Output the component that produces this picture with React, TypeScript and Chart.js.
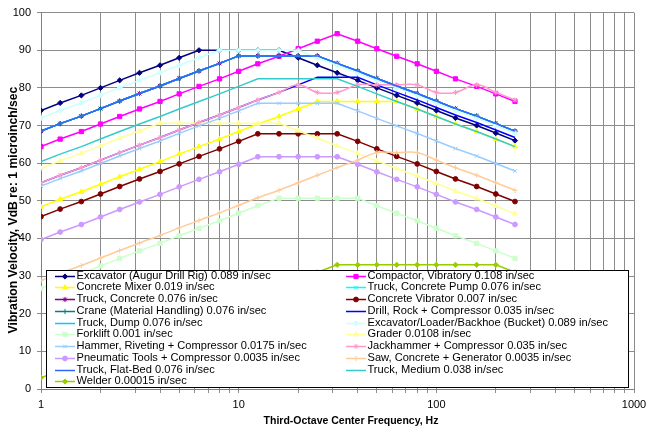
import React, { useEffect, useRef } from 'react';
import { Chart, registerables } from 'chart.js';

Chart.register(...registerables);

// Third-octave center frequencies, Hz
const freqs = [1, 1.25, 1.6, 2, 2.5, 3.15, 4, 5, 6.3, 8, 10, 12.5, 16, 20, 25, 31.5, 40, 50, 63, 80, 100, 125, 160, 200, 250];

// Vibration velocity, VdB
const excavator = [74, 76, 78, 80, 82, 84, 86, 88, 90, 90, 90, 90, 90, 88, 86, 84, 82, 80, 78, 76, 74, 72, 70, 68, 66];
const compactor = [64.4, 66.4, 68.4, 70.4, 72.4, 74.4, 76.4, 78.4, 80.4, 82.4, 84.4, 86.4, 88.4, 90.4, 92.4, 94.4, 92.4, 90.4, 88.4, 86.4, 84.4, 82.4, 80.4, 78.4, 76.4];
const concreteMixer = [48.4, 50.4, 52.4, 54.4, 56.4, 58.4, 60.4, 62.4, 64.4, 66.4, 68.4, 70.4, 72.4, 74.4, 76.4, 76.4, 76.4, 76.4, 76.4, 74.4, 72.4, 70.4, 68.4, 66.4, 64.4];
const truck076 = [68.5, 70.5, 72.5, 74.5, 76.5, 78.5, 80.5, 82.5, 84.5, 86.5, 88.5, 88.5, 88.5, 88.5, 88.5, 86.5, 84.5, 82.5, 80.5, 78.5, 76.5, 74.5, 72.5, 70.5, 68.5];
const concreteVibrator = [45.8, 47.8, 49.8, 51.8, 53.8, 55.8, 57.8, 59.8, 61.8, 63.8, 65.8, 67.8, 67.8, 67.8, 67.8, 67.8, 65.8, 63.8, 61.8, 59.8, 57.8, 55.8, 53.8, 51.8, 49.8];
const drillRock = [54.8, 56.8, 58.8, 60.8, 62.8, 64.8, 66.8, 68.8, 70.8, 72.8, 74.8, 76.8, 78.8, 80.8, 82.8, 82.8, 82.8, 80.8, 78.8, 76.8, 74.8, 72.8, 70.8, 68.8, 66.8];
const excLoader = [72, 74, 76, 78, 80, 82, 84, 86, 88, 90, 90, 90, 90, 90, 88, 86, 84, 82, 80, 78, 76, 74, 72, 70, 68];
const forklift = [26.7, 28.7, 30.7, 32.7, 34.7, 36.7, 38.7, 40.7, 42.7, 44.7, 46.7, 48.7, 50.7, 50.7, 50.7, 50.7, 50.7, 48.7, 46.7, 44.7, 42.7, 40.7, 38.7, 36.7, 34.7];
const grader = [58.6, 60.6, 62.6, 64.6, 66.6, 68.6, 70.6, 70.6, 70.6, 70.6, 70.6, 70.6, 70.6, 68.6, 66.6, 64.6, 62.6, 60.6, 58.6, 56.6, 54.6, 52.6, 50.6, 48.6, 46.6];
const hammer = [53.9, 55.9, 57.9, 59.9, 61.9, 63.9, 65.9, 67.9, 69.9, 71.9, 73.9, 75.9, 75.9, 75.9, 75.9, 75.9, 73.9, 71.9, 69.9, 67.9, 65.9, 63.9, 61.9, 59.9, 57.9];
const jackhammer = [54.8, 56.8, 58.8, 60.8, 62.8, 64.8, 66.8, 68.8, 70.8, 72.8, 74.8, 76.8, 78.8, 80.8, 78.8, 78.8, 80.8, 80.8, 80.8, 80.8, 78.8, 78.8, 80.8, 78.8, 76.8];
const pneumatic = [39.7, 41.7, 43.7, 45.7, 47.7, 49.7, 51.7, 53.7, 55.7, 57.7, 59.7, 61.7, 61.7, 61.7, 61.7, 61.7, 59.7, 57.7, 55.7, 53.7, 51.7, 49.7, 47.7, 45.7, 43.7];
const saw = [28.8, 30.8, 32.8, 34.8, 36.8, 38.8, 40.8, 42.8, 44.8, 46.8, 48.8, 50.8, 52.8, 54.8, 56.8, 58.8, 60.8, 62.8, 62.8, 62.8, 60.8, 58.8, 56.8, 54.8, 52.8];
const truckMedium = [60.4, 62.4, 64.4, 66.4, 68.4, 70.4, 72.4, 74.4, 76.4, 78.4, 80.4, 82.4, 82.4, 82.4, 82.4, 82.4, 80.4, 78.4, 76.4, 74.4, 72.4, 70.4, 68.4, 66.4, 64.4];
const welder = [3, 5, 7, 9, 11, 13, 15, 17, 19, 21, 23, 25, 27, 29, 31, 33, 33, 33, 33, 33, 33, 33, 33, 33, 31];

const seriesLabels = [
  'Excavator (Augur Drill Rig) 0.089 in/sec',
  'Compactor, Vibratory 0.108 in/sec',
  'Concrete Mixer 0.019 in/sec',
  'Truck, Concrete Pump 0.076 in/sec',
  'Truck, Concrete 0.076 in/sec',
  'Concrete Vibrator 0.007 in/sec',
  'Crane (Material Handling) 0.076 in/sec',
  'Drill, Rock + Compressor 0.035 in/sec',
  'Truck, Dump 0.076 in/sec',
  'Excavator/Loader/Backhoe (Bucket) 0.089 in/sec',
  'Forklift 0.001 in/sec',
  'Grader 0.0108 in/sec',
  'Hammer, Riveting + Compressor 0.0175 in/sec',
  'Jackhammer + Compressor 0.035 in/sec',
  'Pneumatic Tools + Compressor 0.0035 in/sec',
  'Saw, Concrete + Generator 0.0035 in/sec',
  'Truck, Flat-Bed 0.076 in/sec',
  'Truck, Medium 0.038 in/sec',
  'Welder 0.00015 in/sec',
];
const seriesValues = [
  excavator, compactor, concreteMixer, truck076, truck076, concreteVibrator, truck076, drillRock, truck076,
  excLoader, forklift, grader, hammer, jackhammer, pneumatic, saw, truck076, truckMedium, welder,
];

// styles
const seriesColors = [
  '#000080', '#FF00FF', '#FFFF00', '#00FFFF', '#800080', '#800000', '#008080', '#0000FF', '#00CCFF',
  '#CCFFFF', '#CCFFCC', '#FFFF99', '#99CCFF', '#FF99CC', '#CC99FF', '#FFCC99', '#3366FF', '#33CCCC', '#99CC00',
];
const seriesMarkers: (string | null)[] = [
  'rectRot', 'rect', 'triangle', 'crossRot', 'star', 'circle', 'cross', null, null,
  'rectRot', 'rect', 'triangle', 'crossRot', 'star', 'circle', 'cross', null, null, 'rectRot',
];
const seriesSmooth = [
  false, false, false, false, false, false, false, false, false,
  false, false, false, false, true, false, true, false, false, false,
];

const xGridValues = [1, 2, 3, 4, 5, 6, 7, 8, 9, 10, 20, 30, 40, 50, 60, 70, 80, 90, 100, 200, 300, 400, 500, 600, 700, 800, 900, 1000];
const xTickLabels = [1, 10, 100, 1000];
const xTitle = 'Third-Octave Center Frequency, Hz';
const yTitle = 'Vibration Velocity, VdB re: 1 microinch/sec';

const FONT = '"Liberation Sans", Arial, sans-serif';

function markerRadius(m: string | null) {
  if (m === 'rect') return 3;
  if (m === 'triangle') return 2.8;
  if (m === 'circle') return 2.4;
  if (m === 'rectRot') return 2.6;
  return 2.6;
}

function drawMarker(ctx: CanvasRenderingContext2D, style: string | null, x: number, y: number, color: string) {
  if (!style) return;
  const r = markerRadius(style);
  ctx.save();
  ctx.fillStyle = color;
  ctx.strokeStyle = color;
  ctx.lineWidth = 1;
  ctx.beginPath();
  switch (style) {
    case 'rectRot':
      ctx.moveTo(x, y - r); ctx.lineTo(x + r, y); ctx.lineTo(x, y + r); ctx.lineTo(x - r, y); ctx.closePath();
      ctx.fill(); ctx.stroke();
      break;
    case 'rect': {
      const s = r * Math.SQRT1_2;
      ctx.rect(x - s, y - s, 2 * s, 2 * s);
      ctx.fill(); ctx.stroke();
      break;
    }
    case 'triangle': {
      const side = (3 * r) / Math.sqrt(3);
      const h = (side * Math.sqrt(3)) / 2;
      ctx.moveTo(x - side / 2, y + h / 3);
      ctx.lineTo(x + side / 2, y + h / 3);
      ctx.lineTo(x, y - (2 * h) / 3);
      ctx.closePath();
      ctx.fill(); ctx.stroke();
      break;
    }
    case 'circle':
      ctx.arc(x, y, r, 0, Math.PI * 2);
      ctx.fill(); ctx.stroke();
      break;
    case 'crossRot': {
      const d = r * Math.SQRT1_2;
      ctx.moveTo(x - d, y - d); ctx.lineTo(x + d, y + d);
      ctx.moveTo(x + d, y - d); ctx.lineTo(x - d, y + d);
      ctx.stroke();
      break;
    }
    case 'cross':
      ctx.moveTo(x, y - r); ctx.lineTo(x, y + r);
      ctx.moveTo(x - r, y); ctx.lineTo(x + r, y);
      ctx.stroke();
      break;
    case 'star': {
      const d = r * Math.SQRT1_2;
      ctx.moveTo(x, y - r); ctx.lineTo(x, y + r);
      ctx.moveTo(x - r, y); ctx.lineTo(x + r, y);
      ctx.moveTo(x - d, y - d); ctx.lineTo(x + d, y + d);
      ctx.moveTo(x + d, y - d); ctx.lineTo(x - d, y + d);
      ctx.stroke();
      break;
    }
  }
  ctx.restore();
}

const overlayPlugin = {
  id: 'overlay',
  afterDraw(chart: any) {
    const ctx: CanvasRenderingContext2D = chart.ctx;
    const area = chart.chartArea;
    ctx.save();
    // axis titles
    ctx.fillStyle = '#000';
    ctx.textAlign = 'center';
    ctx.textBaseline = 'middle';
    ctx.font = `bold 10.5px ${FONT}`;
    ctx.fillText(xTitle, 351, 421);
    ctx.save();
    ctx.font = `bold 12.2px ${FONT}`;
    ctx.translate(14, 210);
    ctx.rotate(-Math.PI / 2);
    ctx.fillText(yTitle, 0, 0);
    ctx.restore();

    // legend box
    const bx = area.left + 5;
    const by = 270;
    const bw = 628 - bx;
    const bh = 387 - by;
    ctx.fillStyle = '#fff';
    ctx.fillRect(bx, by, bw, bh);
    ctx.strokeStyle = '#000';
    ctx.lineWidth = 1;
    ctx.strokeRect(Math.round(bx) + 0.5, by + 0.5, Math.round(bw), bh);

    ctx.font = `11.1px ${FONT}`;
    ctx.textAlign = 'left';
    ctx.textBaseline = 'middle';
    const colX = [55, 346];
    for (let i = 0; i < seriesLabels.length; i++) {
      const col = i % 2;
      const row = Math.floor(i / 2);
      const y = 275.7 + row * 11.73;
      const x0 = colX[col];
      const x1 = x0 + 20;
      ctx.strokeStyle = seriesColors[i];
      ctx.lineWidth = 1.5;
      ctx.beginPath();
      ctx.moveTo(x0, Math.round(y) + 0.5);
      ctx.lineTo(x1, Math.round(y) + 0.5);
      ctx.stroke();
      drawMarker(ctx, seriesMarkers[i], (x0 + x1) / 2, Math.round(y) + 0.5, seriesColors[i]);
      ctx.fillStyle = '#000';
      ctx.fillText(seriesLabels[i], x1 + 1.5, y);
    }
    ctx.restore();
  },
};

export default function App() {
  const canvasRef = useRef<HTMLCanvasElement | null>(null);

  useEffect(() => {
    const canvas = canvasRef.current;
    if (!canvas) return;
    const datasets = seriesLabels.map((label, i) => ({
      label,
      data: freqs.map((f, j) => ({ x: f, y: seriesValues[i][j] })),
      borderColor: seriesColors[i],
      backgroundColor: seriesColors[i],
      borderWidth: 1.5,
      pointStyle: seriesMarkers[i] || 'circle',
      pointRadius: seriesMarkers[i] ? markerRadius(seriesMarkers[i]) : 0,
      pointBorderWidth: 1,
      pointHoverRadius: 0,
      tension: seriesSmooth[i] ? 0.4 : 0,
      fill: false,
      order: -i,
    }));

    const gridColor = '#8c8c8c';
    const chart = new Chart(canvas, {
      type: 'line',
      data: { datasets },
      options: {
        responsive: false,
        animation: false,
        events: [],
        layout: { padding: { top: 8, right: 12, left: 0, bottom: 0 } },
        plugins: {
          legend: { display: false },
          tooltip: { enabled: false },
          title: { display: false },
        },
        scales: {
          x: {
            type: 'logarithmic',
            position: 'bottom',
            min: 1,
            max: 1000,
            afterBuildTicks: (s: any) => {
              s.ticks = xGridValues.map((v) => ({ value: v }));
            },
            afterFit: (s: any) => {
              s.height = 40;
              s.paddingLeft = 0;
              s.paddingRight = 0;
            },
            ticks: {
              autoSkip: false,
              maxRotation: 0,
              minRotation: 0,
              padding: 5,
              color: '#000',
              font: { family: FONT, size: 11 },
              callback: (v: any) => (xTickLabels.includes(Number(v)) ? String(v) : ''),
            },
            grid: { color: gridColor, lineWidth: 1, drawTicks: true, tickLength: 4, tickColor: gridColor },
            border: { color: '#808080', width: 1 },
          },
          y: {
            type: 'linear',
            position: 'left',
            min: 0,
            max: 100,
            afterFit: (s: any) => {
              s.width = 41;
            },
            ticks: {
              stepSize: 10,
              padding: 6,
              color: '#000',
              font: { family: FONT, size: 11 },
            },
            grid: { color: gridColor, lineWidth: 1, drawTicks: true, tickLength: 4, tickColor: gridColor },
            border: { color: '#808080', width: 1 },
          },
        },
      },
      plugins: [overlayPlugin],
    } as any);

    return () => {
      chart.destroy();
    };
  }, []);

  return (
    <div style={{ position: 'fixed', left: 0, top: 0, width: 646, height: 429, background: '#fff' }}>
      <canvas ref={canvasRef} width={646} height={429} style={{ display: 'block' }} />
    </div>
  );
}
